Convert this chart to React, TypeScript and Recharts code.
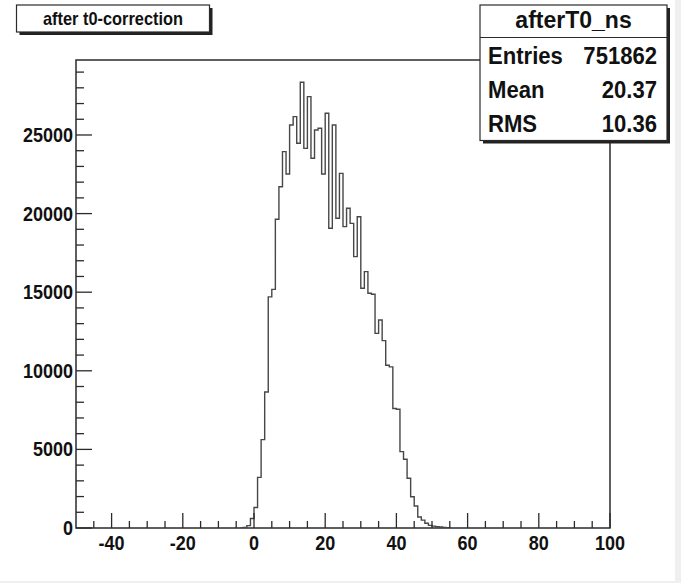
import { LineChart, Line, XAxis, YAxis, ReferenceArea } from 'recharts';

// histogram "afterT0_ns": 1 ns bins, first entry is the bin whose left edge is at -4
const firstEdge = -4;
const counts = [
  0, 30, 150, 600, 1300, 3220, 5620, 8650, 14700, 15180,
  19640, 21710, 23940, 22520, 25640, 26170, 24470, 28350, 24150, 27440,
  23520, 25320, 25430, 22520, 26380, 19070, 25640, 19700, 22560, 19170,
  20340, 19380, 17260, 19800, 15250, 16310, 14930, 14870, 12380, 13230,
  11920, 10350, 10250, 7600, 7550, 4860, 4370, 3160, 1990, 1400,
  700, 500, 300, 170, 120, 80, 60, 40, 20, 0,
];

const xTicks = [
  -45, -40, -35, -30, -25, -20, -15, -10, -5, 0, 5, 10, 15, 20, 25, 30, 35,
  40, 45, 50, 55, 60, 65, 70, 75, 80, 85, 90, 95, 100,
];
const xLabels = [-40, -20, 0, 20, 40, 60, 80, 100];
const yTicks = [
  0, 1000, 2000, 3000, 4000, 5000, 6000, 7000, 8000, 9000, 10000, 11000,
  12000, 13000, 14000, 15000, 16000, 17000, 18000, 19000, 20000, 21000,
  22000, 23000, 24000, 25000, 26000, 27000, 28000, 29000,
];
const yLabels = [0, 5000, 10000, 15000, 20000, 25000];

const histTitle = 'after t0-correction';
const statsName = 'afterT0_ns';
const statsRows = [
  { label: 'Entries', value: '751862' },
  { label: 'Mean', value: '20.37' },
  { label: 'RMS', value: '10.36' },
];

const histData = counts.map((count, i) => ({ edge: firstEdge + i, count }));

const FONT = '"Liberation Sans", Arial, sans-serif';
const INK = '#2b2b2b';

// bold text squeezed horizontally, like the condensed Helvetica of the original
function T({ x, y, size, sx = 1, anchor = 'start', children }: any) {
  return (
    <text
      transform={`translate(${x},${y}) scale(${sx},1)`}
      textAnchor={anchor}
      fontFamily={FONT}
      fontWeight="bold"
      fontSize={size}
      fill="#111"
    >
      {children}
    </text>
  );
}

function XTick(props: any) {
  const { x, y, payload } = props;
  const major = xLabels.includes(payload.value);
  return (
    <g>
      <line x1={x} x2={x} y1={y} y2={y - (major ? 15 : 7)} stroke={INK} strokeWidth={1.3} />
      {major && (
        <T x={x} y={y + 22} size={20} sx={0.9} anchor="middle">
          {payload.value}
        </T>
      )}
    </g>
  );
}

function YTick(props: any) {
  const { x, y, payload } = props;
  const major = yLabels.includes(payload.value);
  return (
    <g>
      <line x1={x} x2={x + (major ? 16 : 8)} y1={y} y2={y} stroke={INK} strokeWidth={1.3} />
      {major && (
        <T x={x - 3} y={y + 7} size={20} sx={0.9} anchor="end">
          {payload.value}
        </T>
      )}
    </g>
  );
}

export default function App() {
  return (
    <div style={{ position: 'relative', width: 681, height: 583, background: '#efefef' }}>
      <style>{'body{margin:0}'}</style>
      <div style={{ position: 'absolute', left: 0, top: 0, width: 675, height: 581, background: '#fff' }}>
        <LineChart width={675} height={581} data={histData} margin={{ top: 60, right: 65, bottom: 23, left: 16 }}>
          <XAxis
            dataKey="edge"
            type="number"
            domain={[-50, 100]}
            ticks={xTicks}
            interval={0}
            tick={XTick}
            tickLine={false}
            axisLine={false}
            tickSize={0}
            tickMargin={0}
            height={30}
            allowDataOverflow
          />
          <YAxis
            type="number"
            domain={[0, 29770]}
            ticks={yTicks}
            interval={0}
            tick={YTick}
            tickLine={false}
            axisLine={false}
            tickSize={0}
            tickMargin={0}
            width={60}
            allowDataOverflow
          />
          <ReferenceArea x1={-50} x2={100} y1={0} y2={29770} fill="none" stroke={INK} strokeWidth={1.5} />
          <Line
            dataKey="count"
            type="stepAfter"
            dot={false}
            stroke="#474747"
            strokeWidth={1.4}
            isAnimationActive={false}
          />
        </LineChart>
      </div>
      <svg width={681} height={583} style={{ position: 'absolute', left: 0, top: 0, pointerEvents: 'none' }}>
        {/* title box */}
        <rect x={19.5} y={8} width={193} height={27} fill="#222" />
        <rect x={16.5} y={5} width={193} height={27} fill="#fff" stroke={INK} strokeWidth={1.2} />
        <T x={113} y={24.5} size={18} sx={0.91} anchor="middle">
          {histTitle}
        </T>
        {/* stats box */}
        <rect x={483} y={8} width={187} height={135.5} fill="#222" />
        <rect x={480} y={5} width={187} height={135.5} fill="#fff" stroke={INK} strokeWidth={1.2} />
        <line x1={480} x2={667} y1={37.5} y2={37.5} stroke={INK} strokeWidth={1.2} />
        <T x={573.5} y={28} size={23} anchor="middle">
          {statsName}
        </T>
        {statsRows.map((r, i) => (
          <g key={r.label}>
            <T x={488} y={63.5 + i * 34} size={23} sx={0.96}>
              {r.label}
            </T>
            <T x={657} y={63.5 + i * 34} size={23} sx={0.96} anchor="end">
              {r.value}
            </T>
          </g>
        ))}
      </svg>
    </div>
  );
}
